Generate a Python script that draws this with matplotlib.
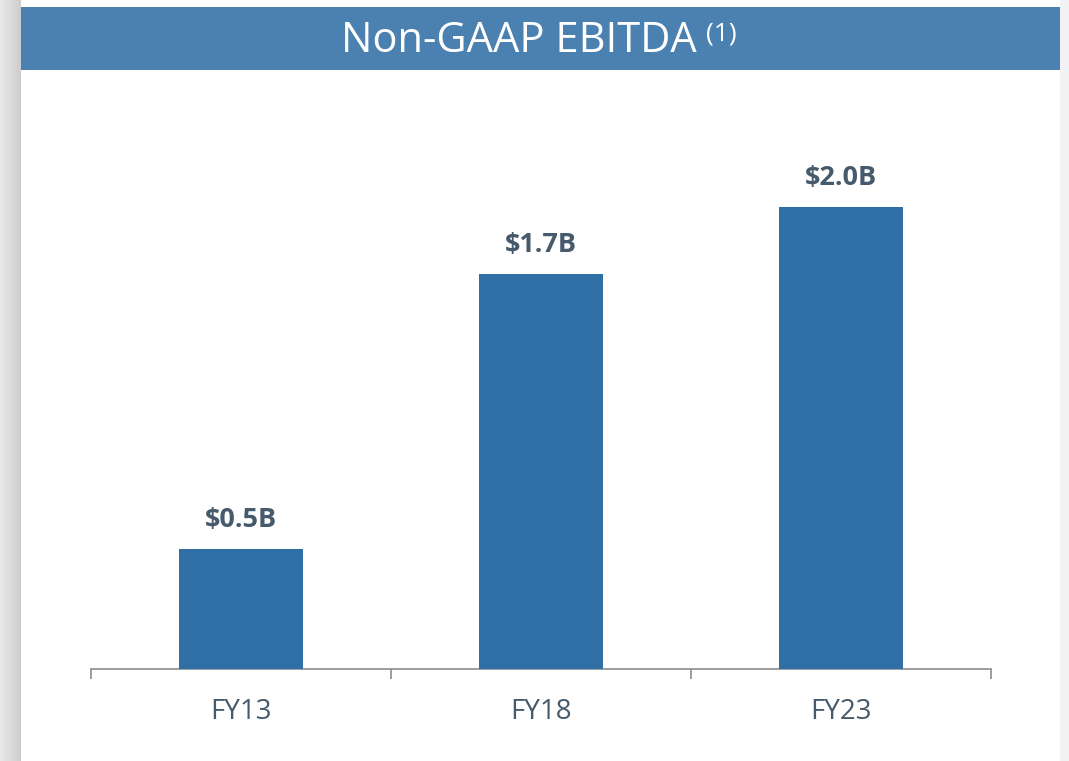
import numpy as np
import matplotlib.pyplot as plt
from matplotlib.patches import Rectangle

plt.rcParams['font.family'] = ['Open Sans', 'DejaVu Sans']

# data
years = ['FY13', 'FY18', 'FY23']
ebitda = [0.52, 1.71, 2.0]          # $B
labels = ['$0.5B', '$1.7B', '$2.0B']

bar_color = '#2f6fa5'
banner_color = '#4a81b0'
text_color = '#465a6b'

W, H = 1069, 761
fig = plt.figure(figsize=(W / 100, H / 100), dpi=100)
fig.patch.set_facecolor('white')

# page background: soft shadow on the left, grey strip on the right
bg = fig.add_axes([0, 0, 1, 1], zorder=-5)
grad = np.linspace(0, 1, 50)[None, :]
bg.imshow(grad, extent=(0, 21, H, 0), cmap='Greys', vmin=-1.2, vmax=6,
          aspect='auto', interpolation='bicubic')
bg.add_patch(Rectangle((1060, 0), W - 1060, H, color='#f2f2f2', lw=0))
bg.add_patch(Rectangle((21, 7), 1039, 63, color=banner_color, lw=0))
bg.set_xlim(0, W)
bg.set_ylim(H, 0)
bg.axis('off')

# title in banner
fig.text(519 / W, 1 - 41 / H, 'Non-GAAP EBITDA', color='white', fontsize=30,
         ha='center', va='center')
fig.text(706 / W, 1 - 34 / H, '(1)', color='white', fontsize=19,
         ha='left', va='center')

# bar chart
ax = fig.add_axes([91 / W, (H - 669) / H, 900 / W, 569 / H])
x = np.arange(len(years))
bars = ax.bar(x, ebitda, width=0.415, color=bar_color, zorder=3)
ax.set_xlim(-0.5, 2.5)
ax.set_ylim(0, 569 / 231)

for b, lab in zip(bars, labels):
    ax.annotate(lab, (b.get_x() + b.get_width() / 2, b.get_height()),
                xytext=(0, 21), textcoords='offset points', ha='center',
                va='center', fontsize=19.5, fontweight='bold', color=text_color)

for s in ['top', 'right', 'left']:
    ax.spines[s].set_visible(False)
ax.spines['bottom'].set_color('#8c8c8c')
ax.spines['bottom'].set_linewidth(1.2)
ax.set_yticks([])
ax.set_xticks(x)
ax.set_xticklabels(years, fontsize=20, color=text_color)
ax.tick_params(axis='x', which='major', length=0, pad=21)
ax.set_xticks([-0.5, 0.5, 1.5, 2.5], minor=True)
ax.tick_params(axis='x', which='minor', length=7.5, width=1.2, color='#8c8c8c',
               direction='out')
ax.patch.set_alpha(0)

fig.savefig('out.png', dpi=100)
